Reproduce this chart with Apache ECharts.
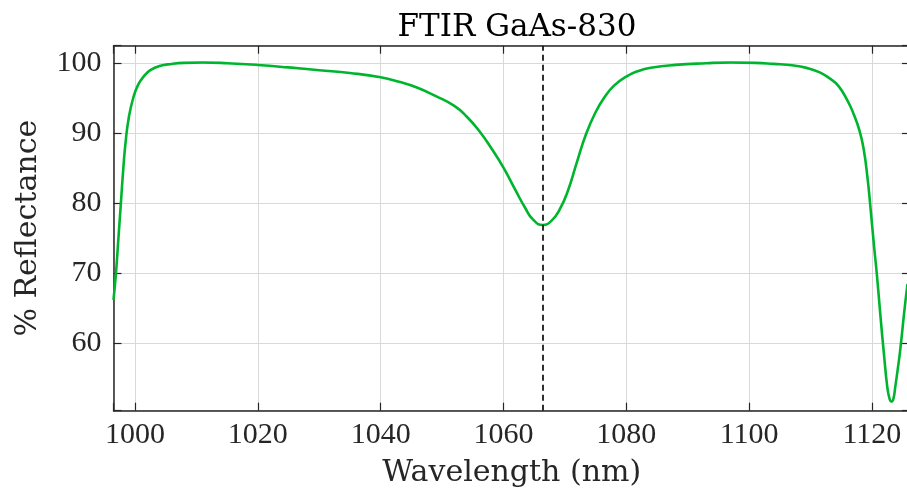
<!DOCTYPE html>
<html>
<head>
<meta charset="utf-8">
<script src="https://cdn.jsdelivr.net/npm/echarts@6/dist/echarts.min.js"></script>
<style>
html,body{margin:0;padding:0;background:#fff;}
#chart{width:907px;height:500px;}
</style>
</head>
<body>
<div id="chart"></div>
<script>
const chartTitle = "FTIR GaAs-830";
const xAxisLabel = "Wavelength (nm)";
const yAxisLabel = "% Reflectance";
const xTicks = [1000, 1020, 1040, 1060, 1080, 1100, 1120];
const yTicks = [60, 70, 80, 90, 100];
const markerWavelength = 1066.4;
const wavelength = [
  996.5, 996.9, 997.3, 997.7, 998.1, 998.5, 999.0, 999.7, 1000.5, 1001.5,
  1002.5, 1004.0, 1006.0, 1008.0, 1011.0, 1015.0, 1020.0, 1025.0, 1030.0, 1035.0,
  1040.0, 1043.0, 1046.0, 1049.0, 1052.0, 1054.0, 1056.0, 1058.0, 1060.0, 1062.0, 1063.5,
  1064.8, 1066.4, 1067.8, 1069.2, 1070.5, 1072.0, 1073.5, 1075.0, 1076.5, 1078.0,
  1080.0, 1082.0, 1084.0, 1088.0, 1093.0, 1097.0, 1101.0, 1104.0, 1107.0, 1109.5,
  1111.5, 1113.0, 1114.5, 1116.0, 1117.0, 1118.0, 1118.7, 1119.3, 1119.7, 1120.3,
  1120.8, 1121.4, 1122.0, 1122.5, 1122.9, 1123.2, 1123.5, 1123.8, 1124.2, 1124.6,
  1125.3, 1125.8
];
const reflectance = [
  66.2, 70.0, 75.0, 80.0, 85.0, 89.0, 92.3, 95.0, 96.9, 98.2,
  99.0, 99.6, 99.9, 100.05, 100.1, 100.0, 99.75, 99.4, 99.0, 98.6,
  98.0, 97.35, 96.5, 95.3, 93.9, 92.4, 90.4, 87.9, 85.1, 81.8, 79.4,
  77.7, 76.9, 77.5, 79.2, 81.8, 86.0, 90.0, 93.0, 95.2, 96.8,
  98.1, 98.9, 99.35, 99.76, 100.0, 100.1, 100.05, 99.9, 99.7, 99.3,
  98.7, 97.9, 96.8, 94.7, 92.8, 90.3, 87.5, 83.5, 80.0, 74.3,
  69.9, 63.8, 58.1, 53.8, 52.0, 51.7, 52.1, 53.8, 56.3, 59.0,
  64.8, 68.5
];

const xMin = 996.5, xMax = 1126.2, yMin = 50.4, yMax = 102.5;
const axisColor = '#262626';
const titleFont = 'DejaVu Serif';
const tickFont = 'Liberation Serif';

const chart = echarts.init(document.getElementById('chart'), null, {renderer: 'canvas'});
const baseAxis = {
  type: 'value',
  axisLine: {show: true, onZero: false, lineStyle: {color: axisColor, width: 1.5}},
  axisTick: {show: true, inside: true, length: 8, lineStyle: {color: axisColor, width: 1.2}},
};
chart.setOption({
  animation: false,
  backgroundColor: '#ffffff',
  title: {
    text: chartTitle, left: 512, textAlign: 'center', top: 7,
    textStyle: {fontFamily: titleFont, fontSize: 31, fontWeight: 'normal', color: '#000'}
  },
  grid: {left: 113.5, top: 45.7, width: 796.5, height: 365, containLabel: false, outerBoundsMode: 'none'},
  xAxis: [
    Object.assign({}, baseAxis, {
      position: 'bottom', min: xMin, max: xMax, splitNumber: 6,
      name: xAxisLabel, nameLocation: 'middle', nameGap: 48,
      nameTextStyle: {fontFamily: titleFont, fontSize: 30, color: axisColor},
      axisLabel: {
        show: true, margin: 9, fontFamily: tickFont, fontSize: 30, color: axisColor,
        formatter: v => xTicks.some(t => Math.abs(t - v) < 1e-6) ? String(Math.round(v)) : ''
      },
      splitLine: {show: true, lineStyle: {color: '#d9d9d9', width: 1}}
    }),
    Object.assign({}, baseAxis, {
      position: 'top', min: xMin, max: xMax, splitNumber: 6,
      axisLabel: {show: false}, splitLine: {show: false}
    })
  ],
  yAxis: [
    Object.assign({}, baseAxis, {
      position: 'left', min: yMin, max: yMax, splitNumber: 5,
      name: yAxisLabel, nameLocation: 'middle', nameGap: 70,
      nameTextStyle: {fontFamily: titleFont, fontSize: 30, color: axisColor},
      axisLabel: {
        show: true, margin: 12, fontFamily: tickFont, fontSize: 30, color: axisColor,
        formatter: v => yTicks.some(t => Math.abs(t - v) < 1e-6) ? String(Math.round(v)) : ''
      },
      splitLine: {show: true, lineStyle: {color: '#d9d9d9', width: 1}}
    }),
    Object.assign({}, baseAxis, {
      position: 'right', min: yMin, max: yMax, splitNumber: 5,
      axisLabel: {show: false}, splitLine: {show: false}
    })
  ],
  series: [{
    type: 'line',
    xAxisIndex: 0, yAxisIndex: 0,
    data: wavelength.map((w, i) => [w, reflectance[i]]),
    showSymbol: false,
    smooth: 0.5,
    clip: true,
    lineStyle: {color: '#00b52e', width: 2.6},
    itemStyle: {color: '#00b52e'},
    markLine: {
      silent: true, symbol: ['none', 'none'],
      label: {show: false},
      lineStyle: {color: '#1a1a1a', type: [6, 4], width: 1.8},
      data: [{xAxis: markerWavelength}]
    },
    z: 3
  }]
});
</script>
</body>
</html>
